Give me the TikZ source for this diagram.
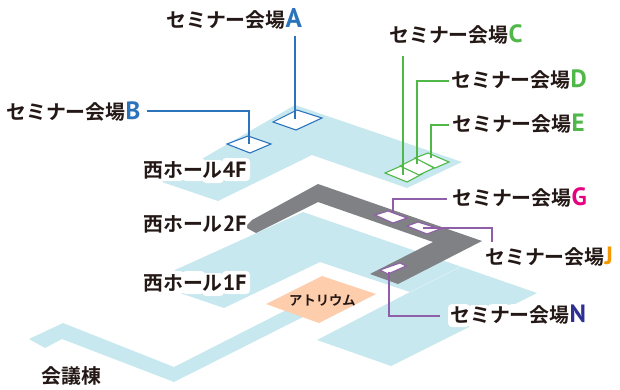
\documentclass[tikz,border=0pt]{standalone}
\usepackage{fontspec}
\setmainfont{Noto Sans CJK JP}[BoldFont={* Bold}]
\newfontfamily\latf{PT Sans}
\definecolor{ink}{HTML}{231815}
\definecolor{floorc}{HTML}{C8E8EF}
\definecolor{grayf}{HTML}{808184}
\definecolor{atr}{HTML}{FDCDAC}
\definecolor{blueS}{HTML}{2B74BC}
\definecolor{greenS}{HTML}{4FB848}
\definecolor{purpS}{HTML}{8E5EA8}
\definecolor{magL}{HTML}{E6007E}
\definecolor{oraL}{HTML}{F39800}
\definecolor{navL}{HTML}{2E3192}
\newcommand{\semi}[3][25]{\fontsize{19.9}{20}\selectfont\bfseries セミナー会場{\latf\fontsize{#1}{#1}\selectfont\color{#2}#3}}
\newcommand{\hallt}[2]{\fontsize{19.9}{20}\selectfont\bfseries #1{\latf\fontsize{22}{22}\selectfont #2}}
\newcommand{\hb}[3]{\path[haloback] (#1,#2) rectangle +(#3,23);}
\tikzset{
  flr/.style={fill=floorc,draw=none},
  room/.style={fill=white,draw=#1,line width=1.1pt,line join=miter},
  lead/.style={draw=#1,line width=1.4pt},
  lab/.style={anchor=base west,inner sep=0pt,text=ink},
  haloback/.style={fill=white,rounded corners=4pt},
}
\begin{document}
\begin{tikzpicture}[x=1pt,y=-1pt]
\useasboundingbox (0,0) rectangle (620,389);
% 4F
\path[flr] (295,105)--(462,162)--(407,188)--(312,155)--(218,201)--(162,182)--cycle;
% 1F
\path[flr] (175,270)--(303,212)--(537,293)--(391,366)--(317,340)--(410,292)--(320,262)--(224,308)--(177,292)--cycle;
\draw[white,line width=.4pt,opacity=.6] (410,292)--(462,266);
% corridor
\path[flr] (29,339)--(63,323)--(174,367)--(300,303)--(305,316)--(174,382)--(62,339)--(45,348)--cycle;
% atrium
\path[fill=atr] (266,304)--(322,276)--(376,294)--(319,323)--cycle;
% 2F
\path[fill=grayf] (318,184)--(482,241)--(398,284)--(370,274)--(433,242)--(318,202)--(256,233)--(245,227)--(252,220)--cycle;
% white backing behind labels that lie on the floors
\hb{160}{158}{24}\hb{182}{158}{23}\hb{202}{160}{22}\hb{222}{158}{28}
\hb{230}{211}{17}
\hb{160}{271}{24}\hb{182}{271}{23}\hb{202}{273}{22}\hb{222}{271}{28}
\hb{448}{304}{22}\hb{468}{305}{22}\hb{488}{304}{22}\hb{508}{304}{20}
% rooms
\draw[room=blueS] (273,122)--(297,110)--(322,118)--(296,130)--cycle;
\draw[room=blueS] (227,144)--(248,136)--(271,144)--(250,153)--cycle;
\draw[room=greenS] (385,173)--(401,166)--(422,174)--(407,182)--cycle;
\draw[room=greenS] (400,166)--(416,158)--(434,168)--(419,175)--cycle;
\draw[room=greenS] (415,158)--(428,153)--(449,162)--(435,168)--cycle;
\draw[room=purpS] (375,215)--(388,211)--(407,218)--(393,223)--cycle;
\draw[room=purpS] (407,226)--(418,222)--(440,229)--(427,234)--cycle;
\draw[room=purpS] (380,270)--(400,263)--(406,266)--(388,274)--cycle;
% labels
\node[lab] (la) at (166,27.5) {\semi[27]{blueS}{A}};
\node[lab] (lb) at (6,119) {\semi{blueS}{B}};
\node[lab] (lc) at (389,42) {\semi{greenS}{C}};
\node[lab] (ld) at (451,87) {\semi{greenS}{D}};
\node[lab] (le) at (452,131) {\semi{greenS}{E}};
\node[lab] (lg) at (452,205) {\semi{magL}{G}};
\node[lab] (lj) at (485,264) {\semi{oraL}{J}};
\node[lab] (ln) at (450,322) {\semi{navL}{N}};
\node[lab] (h4) at (143,177) {\hallt{西ホール}{4F}};
\node[lab] (h2) at (143,231) {\hallt{西ホール}{2F}};
\node[lab] (h1) at (143,290) {\hallt{西ホール}{1F}};
\node[lab,font=\fontsize{19.9}{20}\selectfont\bfseries] (kg) at (41,383.5) {会議棟};
\node[lab,font=\fontsize{13.3}{14}\selectfont\bfseries] (at) at (289,305) {アトリウム};
% connector ends
\coordinate (a0) at (295,36); \coordinate (a1) at (295,119);
\coordinate (b0) at (147,111); \coordinate (b1) at (249,144);
\coordinate (c0) at (403,56); \coordinate (c1) at (403,175);
\coordinate (d0) at (449,81); \coordinate (d1) at (417,164);
\coordinate (e0) at (449,125); \coordinate (e1) at (431,158);
\coordinate (g0) at (447,199); \coordinate (g1) at (393,213);
\coordinate (j0) at (423,228); \coordinate (j1) at (492,242);
\coordinate (n0) at (440,316); \coordinate (n1) at (389,272);
\draw[lead=blueS] (a0)--(a1);
\draw[lead=blueS] (b0)-|(b1);
\draw[lead=greenS] (c0)--(c1);
\draw[lead=greenS] (d0)-|(d1);
\draw[lead=greenS] (e0)-|(e1);
\draw[lead=purpS] (g0)-|(g1);
\draw[lead=purpS] (j0)-|(j1);
\draw[lead=purpS] (n0)-|(n1);
\end{tikzpicture}
\end{document}
